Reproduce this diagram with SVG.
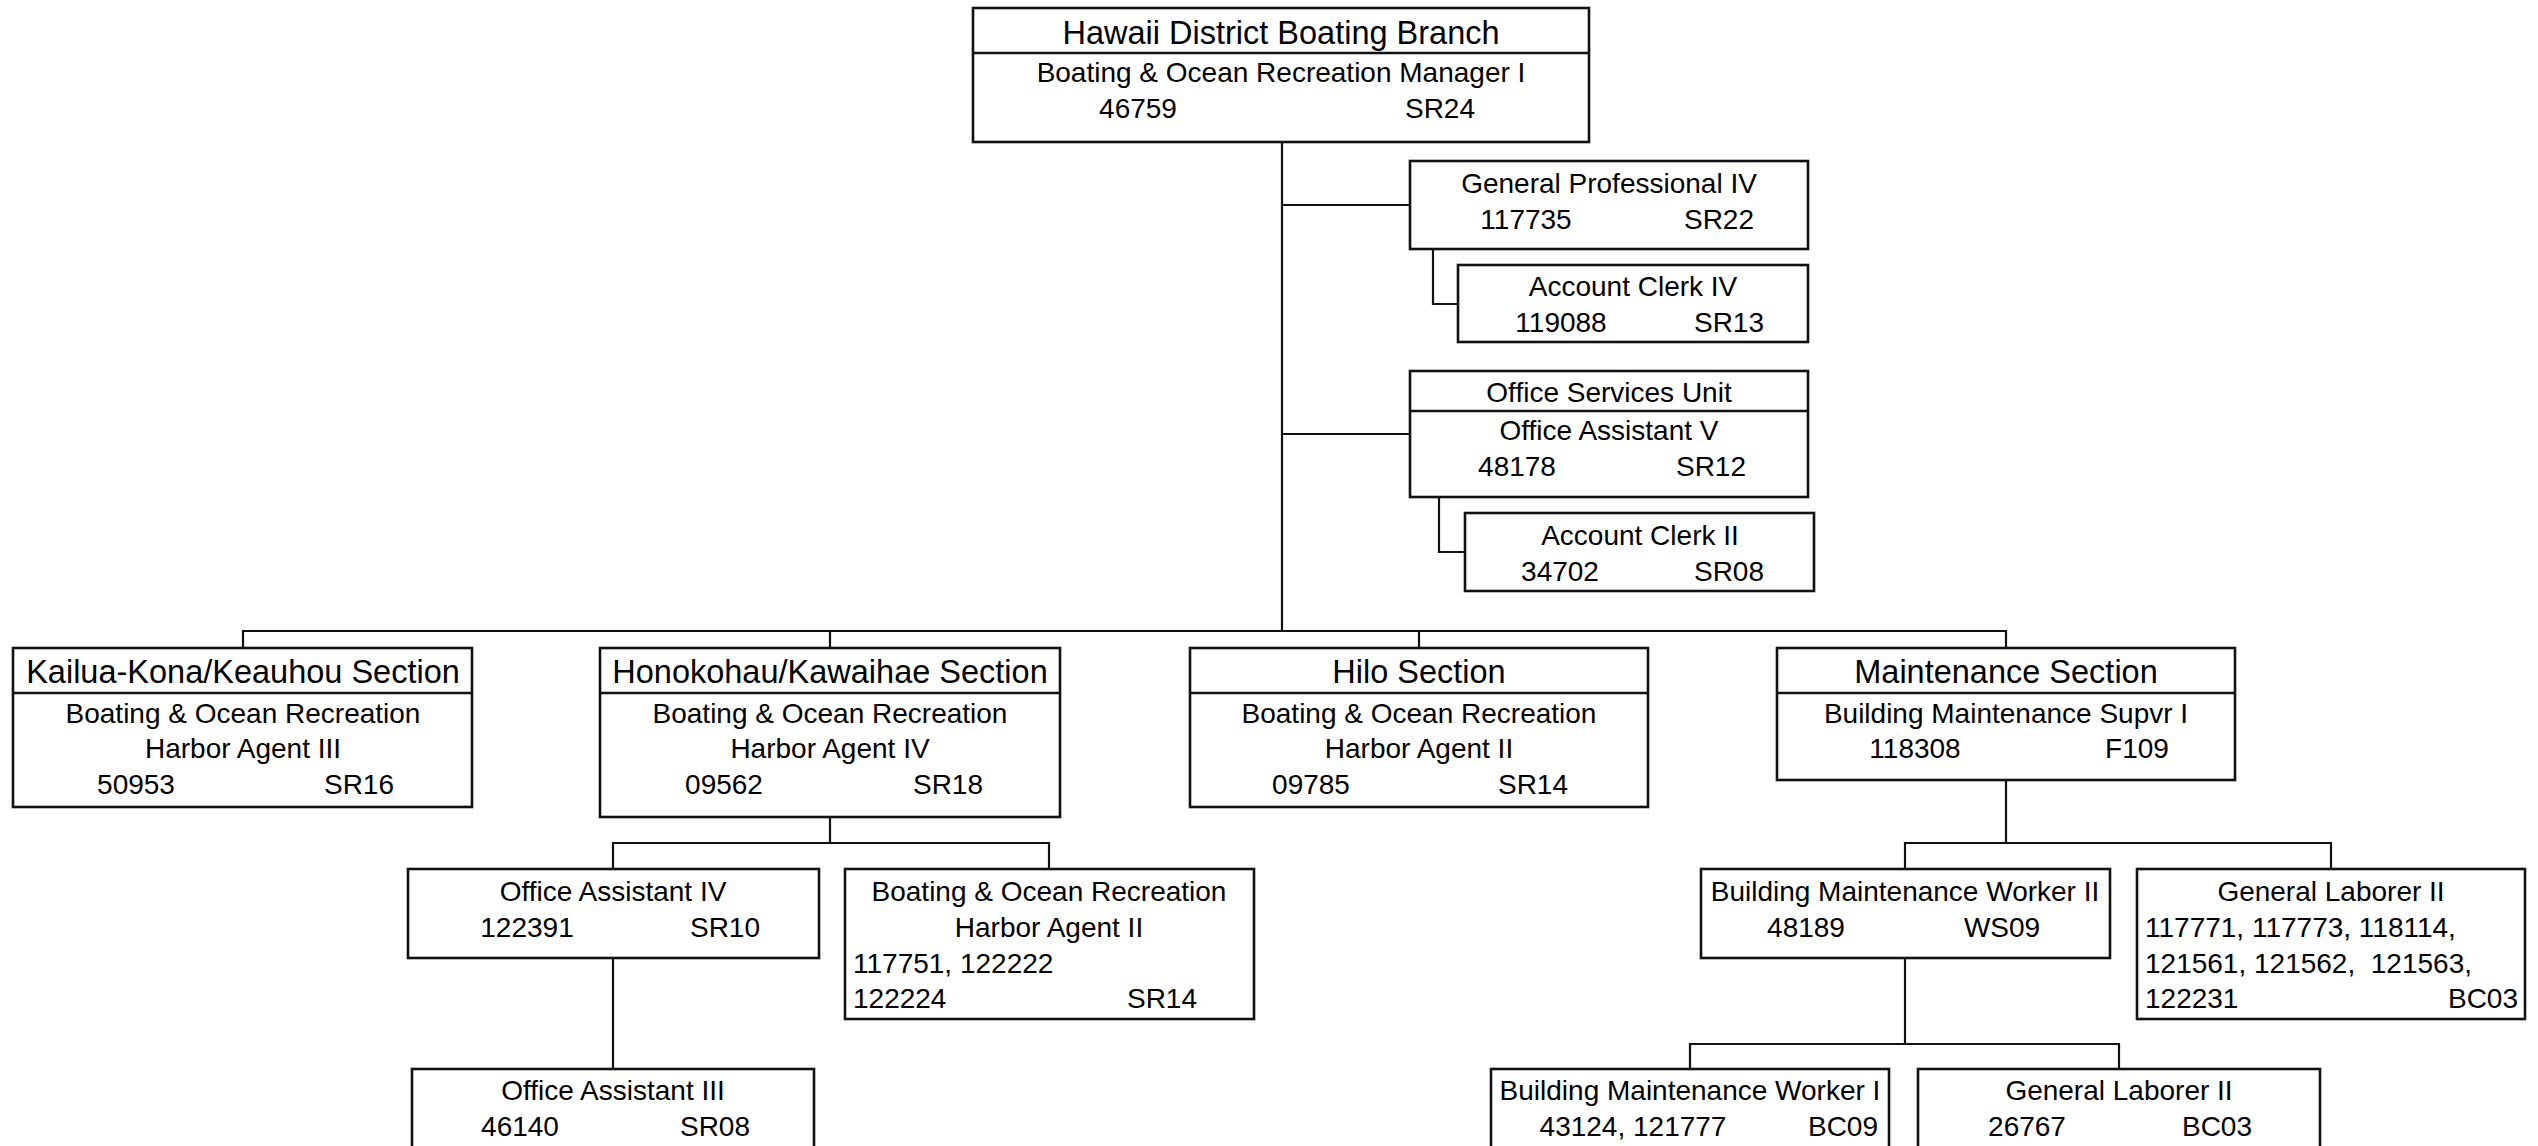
<svg xmlns="http://www.w3.org/2000/svg" width="2538" height="1146" viewBox="0 0 2538 1146">
<style>
rect{fill:#fff;stroke:#111;stroke-width:2.6}
.d{stroke:#111;stroke-width:2.6}
text{font-family:"Liberation Sans",Arial,sans-serif;font-size:28px;fill:#000}
.t{font-size:32.5px}
.c{text-anchor:middle}
.e{text-anchor:end}
#connectors path{fill:none;stroke:#111;stroke-width:2.2}
</style>
<rect x="0" y="0" width="2538" height="1146" style="stroke:none"/>
<g id="connectors">
<path d="M1282 142V631"/>
<path d="M1282 205H1410"/>
<path d="M1282 434H1410"/>
<path d="M1433 249V304H1458"/>
<path d="M1439 497V552H1465"/>
<path d="M243 648V631H2006V648"/>
<path d="M830 631V648"/>
<path d="M1419 631V648"/>
<path d="M830 817V843M613 869V843H1049V869"/>
<path d="M613 958V1069"/>
<path d="M2006 780V843M1905 869V843H2331V869"/>
<path d="M1905 958V1044M1690 1069V1044H2119V1069"/>
</g>
<g id="n-branch">
<rect x="973" y="8" width="616" height="134"/>
<line class="d" x1="973" y1="53" x2="1589" y2="53"/>
<text class="t c" x="1281" y="44">Hawaii District Boating Branch</text>
<text class="c" x="1281" y="82">Boating &amp; Ocean Recreation Manager I</text>
<text class="c" x="1138" y="118">46759</text>
<text class="c" x="1440" y="118">SR24</text>
</g>
<g id="n-gp4">
<rect x="1410" y="161" width="398" height="88"/>
<text class="c" x="1609" y="193">General Professional IV</text>
<text class="c" x="1526" y="229">117735</text>
<text class="c" x="1719" y="229">SR22</text>
</g>
<g id="n-ac4">
<rect x="1458" y="265" width="350" height="77"/>
<text class="c" x="1633" y="296">Account Clerk IV</text>
<text class="c" x="1561" y="332">119088</text>
<text class="c" x="1729" y="332">SR13</text>
</g>
<g id="n-osu">
<rect x="1410" y="371" width="398" height="126"/>
<line class="d" x1="1410" y1="411" x2="1808" y2="411"/>
<text class="c" x="1609" y="402">Office Services Unit</text>
<text class="c" x="1609" y="440">Office Assistant V</text>
<text class="c" x="1517" y="476">48178</text>
<text class="c" x="1711" y="476">SR12</text>
</g>
<g id="n-ac2">
<rect x="1465" y="513" width="349" height="78"/>
<text class="c" x="1640" y="545">Account Clerk II</text>
<text class="c" x="1560" y="581">34702</text>
<text class="c" x="1729" y="581">SR08</text>
</g>
<g id="n-kailua">
<rect x="13" y="648" width="459" height="159"/>
<line class="d" x1="13" y1="693" x2="472" y2="693"/>
<text class="t c" x="243" y="683">Kailua-Kona/Keauhou Section</text>
<text class="c" x="243" y="723">Boating &amp; Ocean Recreation</text>
<text class="c" x="243" y="758">Harbor Agent III</text>
<text class="c" x="136" y="794">50953</text>
<text class="c" x="359" y="794">SR16</text>
</g>
<g id="n-honokohau">
<rect x="600" y="648" width="460" height="169"/>
<line class="d" x1="600" y1="693" x2="1060" y2="693"/>
<text class="t c" x="830" y="683">Honokohau/Kawaihae Section</text>
<text class="c" x="830" y="723">Boating &amp; Ocean Recreation</text>
<text class="c" x="830" y="758">Harbor Agent IV</text>
<text class="c" x="724" y="794">09562</text>
<text class="c" x="948" y="794">SR18</text>
</g>
<g id="n-hilo">
<rect x="1190" y="648" width="458" height="159"/>
<line class="d" x1="1190" y1="693" x2="1648" y2="693"/>
<text class="t c" x="1419" y="683">Hilo Section</text>
<text class="c" x="1419" y="723">Boating &amp; Ocean Recreation</text>
<text class="c" x="1419" y="758">Harbor Agent II</text>
<text class="c" x="1311" y="794">09785</text>
<text class="c" x="1533" y="794">SR14</text>
</g>
<g id="n-maint">
<rect x="1777" y="648" width="458" height="132"/>
<line class="d" x1="1777" y1="693" x2="2235" y2="693"/>
<text class="t c" x="2006" y="683">Maintenance Section</text>
<text class="c" x="2006" y="723">Building Maintenance Supvr I</text>
<text class="c" x="1915" y="758">118308</text>
<text class="c" x="2137" y="758">F109</text>
</g>
<g id="n-oa4">
<rect x="408" y="869" width="411" height="89"/>
<text class="c" x="613" y="901">Office Assistant IV</text>
<text class="c" x="527" y="937">122391</text>
<text class="c" x="725" y="937">SR10</text>
</g>
<g id="n-ha2">
<rect x="845" y="869" width="409" height="150"/>
<text class="c" x="1049" y="901">Boating &amp; Ocean Recreation</text>
<text class="c" x="1049" y="937">Harbor Agent II</text>
<text x="853" y="973">117751, 122222</text>
<text x="853" y="1008">122224</text>
<text class="c" x="1162" y="1008">SR14</text>
</g>
<g id="n-oa3">
<rect x="412" y="1069" width="402" height="120"/>
<text class="c" x="613" y="1100">Office Assistant III</text>
<text class="c" x="520" y="1136">46140</text>
<text class="c" x="715" y="1136">SR08</text>
</g>
<g id="n-bmw2">
<rect x="1701" y="869" width="409" height="89"/>
<text class="c" x="1905" y="901">Building Maintenance Worker II</text>
<text class="c" x="1806" y="937">48189</text>
<text class="c" x="2002" y="937">WS09</text>
</g>
<g id="n-gl2a">
<rect x="2137" y="869" width="388" height="150"/>
<text class="c" x="2331" y="901">General Laborer II</text>
<text x="2145" y="937">117771, 117773, 118114,</text>
<text x="2145" y="973" xml:space="preserve">121561, 121562,  121563,</text>
<text x="2145" y="1008">122231</text>
<text class="e" x="2518" y="1008">BC03</text>
</g>
<g id="n-bmw1">
<rect x="1491" y="1069" width="398" height="120"/>
<text class="c" x="1690" y="1100">Building Maintenance Worker I</text>
<text class="c" x="1633" y="1136">43124, 121777</text>
<text class="c" x="1843" y="1136">BC09</text>
</g>
<g id="n-gl2b">
<rect x="1918" y="1069" width="402" height="120"/>
<text class="c" x="2119" y="1100">General Laborer II</text>
<text class="c" x="2027" y="1136">26767</text>
<text class="c" x="2217" y="1136">BC03</text>
</g>
</svg>
